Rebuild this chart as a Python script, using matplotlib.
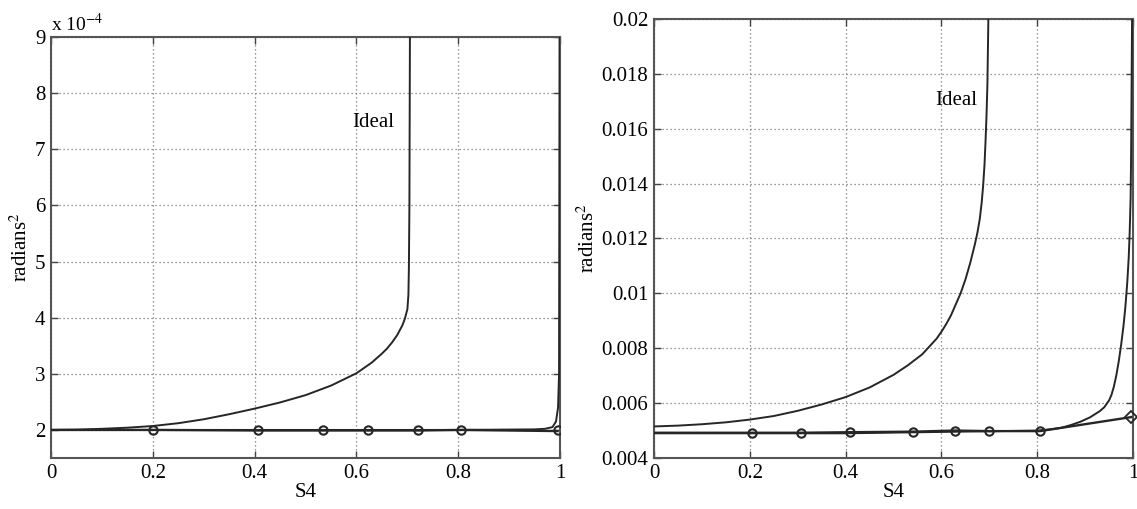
"""Angle error variance vs S4: two panels, ideal vs actual tracking loop."""

import matplotlib
matplotlib.use("Agg")
import matplotlib.pyplot as plt
from matplotlib.ticker import FixedLocator, FixedFormatter

# ---- left panel (units of 1e-4 rad^2) ----
left_ideal_x = [0.0, 0.05, 0.1, 0.15, 0.2, 0.25, 0.3, 0.35, 0.4, 0.45, 0.5, 0.55, 0.6,
                0.63, 0.65, 0.66, 0.67, 0.68, 0.69, 0.695, 0.70, 0.702, 0.703, 0.704, 0.705]
left_ideal_y = [2.0, 2.005, 2.02, 2.04, 2.07, 2.12, 2.19, 2.28, 2.38, 2.49, 2.62, 2.79, 3.01,
                3.2, 3.36, 3.45, 3.56, 3.69, 3.86, 3.98, 4.15, 4.4, 4.9, 6.0, 9.0]
left_actual_x = [0.0, 0.2, 0.4, 0.6, 0.8, 0.95, 0.97, 0.985, 0.992, 0.996, 0.998, 0.999]
left_actual_y = [2.0, 2.0, 2.0, 2.0, 2.0, 2.01, 2.02, 2.05, 2.15, 2.4, 3.0, 9.0]
left_mark_x = [0.0, 0.2, 0.406, 0.535, 0.623, 0.72, 0.806, 0.995]
left_mark_y = [2.0, 2.0, 1.99, 1.99, 1.99, 1.99, 2.0, 1.98]
left_marker_shown = [0.2, 0.406, 0.535, 0.623, 0.72, 0.806, 0.995]

# ---- right panel (rad^2) ----
right_ideal_x = [0.0, 0.05, 0.1, 0.15, 0.2, 0.25, 0.3, 0.35, 0.4, 0.45, 0.5, 0.53, 0.56,
                 0.59, 0.60, 0.61, 0.62, 0.63, 0.64, 0.65, 0.66, 0.67, 0.675,
                 0.68, 0.684, 0.687, 0.690, 0.692, 0.694, 0.696, 0.697, 0.698]
right_ideal_y = [0.00515, 0.00518, 0.00523, 0.0053, 0.0054, 0.00553, 0.00572, 0.00595,
                 0.00622, 0.00657, 0.00703, 0.00738, 0.00778, 0.00835, 0.0086, 0.00888,
                 0.0092, 0.0096, 0.0100, 0.0105, 0.0111, 0.0118, 0.0122,
                 0.0127, 0.0133, 0.0139, 0.0147, 0.0155, 0.0164, 0.0176, 0.0188, 0.0200]
right_actual_x = [0.0, 0.2, 0.4, 0.6, 0.8, 0.83, 0.85, 0.87, 0.89, 0.91, 0.93, 0.94,
                  0.95, 0.955, 0.96, 0.965, 0.97, 0.975, 0.98, 0.984, 0.988, 0.991,
                  0.993, 0.995, 0.996, 0.997, 0.998]
right_actual_y = [0.0049, 0.0049, 0.0049, 0.00495, 0.0050, 0.00505, 0.0051, 0.0052,
                  0.00532, 0.00548, 0.0057, 0.00585, 0.0061, 0.0063, 0.0066, 0.0070,
                  0.0075, 0.0081, 0.0088, 0.0095, 0.0104, 0.0113, 0.0122, 0.0135,
                  0.0150, 0.0175, 0.0200]
right_mark_x = [0.0, 0.204, 0.306, 0.409, 0.541, 0.628, 0.70, 0.806, 0.996]
right_mark_y = [0.00492, 0.00492, 0.00492, 0.00494, 0.00496, 0.00500, 0.00498, 0.00498, 0.00549]
right_marker_shown = [0.204, 0.306, 0.409, 0.541, 0.628, 0.70, 0.806]

x_ticks = [0, 0.2, 0.4, 0.6, 0.8, 1]
x_ticklabels = ["0", "0.2", "0.4", "0.6", "0.8", "1"]
left_yticks = [2, 3, 4, 5, 6, 7, 8, 9]
right_yticks = [0.004, 0.006, 0.008, 0.01, 0.012, 0.014, 0.016, 0.018, 0.02]
right_yticklabels = ["0.004", "0.006", "0.008", "0.01", "0.012", "0.014", "0.016", "0.018", "0.02"]

plt.rcParams["font.family"] = ["Liberation Serif", "DejaVu Serif"]
plt.rcParams["mathtext.fontset"] = "stix"

LINE = "#262626"
FS = 15

fig = plt.figure(figsize=(11.37, 5.09), dpi=100)
ax1 = fig.add_axes([0.0449, 0.1002, 0.4477, 0.827])
ax2 = fig.add_axes([0.5752, 0.1002, 0.4213, 0.8625])


def style(ax):
    ax.set_xlim(0, 1)
    ax.grid(True, linestyle=(0, (1, 2.2)), color="#777777", linewidth=0.9)
    ax.tick_params(direction="in", length=5, width=1.0, color="#444444",
                   labelsize=FS, pad=4, top=True, right=True)
    for sp in ax.spines.values():
        sp.set_color("#555555")
        sp.set_linewidth(1.5)
    ax.xaxis.set_major_locator(FixedLocator(x_ticks))
    ax.xaxis.set_major_formatter(FixedFormatter(x_ticklabels))
    ax.set_xlabel("S4", fontsize=FS, labelpad=0)
    ax.set_ylabel("radians$^2$", fontsize=FS, labelpad=2)


# left panel
ax1.plot(left_ideal_x, left_ideal_y, color=LINE, lw=1.4, zorder=3)
ax1.plot(left_actual_x, left_actual_y, color=LINE, lw=1.4, zorder=3)
ax1.plot(left_mark_x, left_mark_y, color=LINE, lw=1.7, zorder=3)
ax1.plot(left_marker_shown, [2.0] * len(left_marker_shown), "o", ms=6,
         mfc="none", mec=LINE, mew=1.5, zorder=4)
style(ax1)
ax1.set_ylim(1.5, 9)
ax1.yaxis.set_major_locator(FixedLocator(left_yticks))
ax1.yaxis.set_major_formatter(FixedFormatter([str(v) for v in left_yticks]))
ax1.text(0.632, 7.48, "Ideal", fontsize=FS, ha="center", va="center")
ax1.text(0.0, 1.005, r"x 10$^{-4}$", transform=ax1.transAxes, fontsize=FS - 1,
         ha="left", va="bottom")

# right panel
ax2.plot(right_ideal_x, right_ideal_y, color=LINE, lw=1.4, zorder=3)
ax2.plot(right_actual_x, right_actual_y, color=LINE, lw=1.4, zorder=3)
ax2.plot(right_mark_x, right_mark_y, color=LINE, lw=1.7, zorder=3)
ax2.plot(right_marker_shown, right_mark_y[1:8], "o", ms=6,
         mfc="none", mec=LINE, mew=1.5, zorder=4)
ax2.plot([right_mark_x[-1]], [right_mark_y[-1]], "D", ms=6,
         mfc="none", mec=LINE, mew=1.3, zorder=4, clip_on=False)
style(ax2)
ax2.set_ylim(0.004, 0.02)
ax2.yaxis.set_major_locator(FixedLocator(right_yticks))
ax2.yaxis.set_major_formatter(FixedFormatter(right_yticklabels))
ax2.text(0.63, 0.01702, "Ideal", fontsize=FS, ha="center", va="center")

fig.savefig("out.png", dpi=100)
